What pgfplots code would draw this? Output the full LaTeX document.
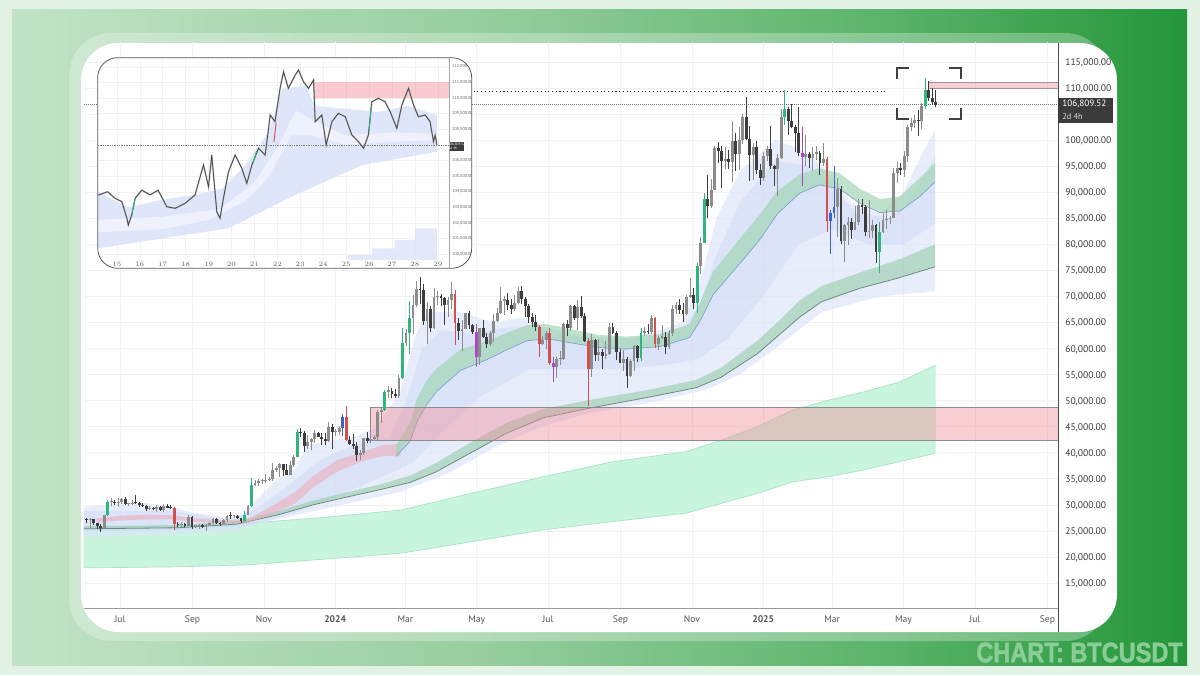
\documentclass[border=0pt]{standalone}
\usepackage{pgfplots}
\pgfplotsset{compat=1.18}
\usepackage{pgfplotstable}
\usepackage{fontspec}
\setmainfont{PT Sans}
\newfontfamily\titlefont[BoldFeatures={FakeBold=1.6}]{Liberation Sans}

\definecolor{bgbase}{HTML}{E2F2E4}
\definecolor{g1}{HTML}{C2E3C7}
\definecolor{g2}{HTML}{97CE9F}
\definecolor{g3}{HTML}{5BB46A}
\definecolor{g4}{HTML}{24963A}
\definecolor{mintA}{HTML}{C9F5DF}
\definecolor{mintAline}{HTML}{A6E3C5}
\definecolor{cloudA}{HTML}{DCE4FA}
\definecolor{cloudB}{HTML}{CCD7F7}
\definecolor{bandB}{HTML}{8FC9A3}
\definecolor{bandBline}{HTML}{6E8C7E}
\definecolor{bandC}{HTML}{9ED4B0}
\definecolor{bandCline}{HTML}{7E9FD0}
\definecolor{pinkC}{HTML}{EFA9B4}
\definecolor{zone}{HTML}{F28B96}
\definecolor{upc}{HTML}{8C8C8C}
\definecolor{dnc}{HTML}{3D3D3D}
\definecolor{grc}{HTML}{2EB67D}
\definecolor{rdc}{HTML}{D0504F}
\definecolor{blc}{HTML}{3A62C8}
\definecolor{ppc}{HTML}{A54BC6}
\definecolor{gridc}{HTML}{F1F1F1}
\definecolor{labc}{HTML}{3A3A3A}
\definecolor{xlabc}{HTML}{555555}
\definecolor{pricebox}{HTML}{3B3B3B}
\definecolor{titlec}{HTML}{93D29E}

\pgfdeclarehorizontalshading{greenbg}{100bp}{color(0bp)=(g1); color(25bp)=(g1); color(45bp)=(g2); color(62bp)=(g3); color(75bp)=(g4); color(100bp)=(g4)}

% #1 condition (pgfmath), #2 colour
\newcommand\candleset[2]{%
 \addplot[draw=none, mark=none, unbounded coords=discard, error bars/.cd, y dir=plus, y explicit, error mark=none,
   error bar style={draw=#2, solid, line width=0.65pt}]
   table[x=x, y expr={(#1) ? \thisrow{l} : nan}, y error expr={\thisrow{h}-\thisrow{l}}] {\candletab};
 \addplot[draw=none, mark=none, unbounded coords=discard, error bars/.cd, y dir=plus, y explicit, error mark=none,
   error bar style={draw=#2, solid, line width=2.1pt}]
   table[x=x, y expr={(#1) ? min(\thisrow{o},\thisrow{c}) : nan}, y error expr={max(abs(\thisrow{c}-\thisrow{o}),0.25)}] {\candletab};
}

% 3-day candles, x = day since 1 Jul 2023, prices in thousands of USDT
% k: 0 normal, 1 green, 2 red, 3 blue, 4 purple
\pgfplotstableread{
x o h l c k
-28.5 27.2 27.4 26.6 27.1 0
-25.5 27.1 27.4 25.4 27.2 0
-22.5 27.2 27.3 26.1 26.5 0
-19.5 26.5 26.6 25.3 25.9 0
-16.5 25.9 26.4 24.8 25.6 0
-13.5 25.6 28.1 25.4 28.0 0
-10.5 28.0 31.0 27.9 30.5 1
-7.5 30.5 31.4 29.8 30.6 0
-4.5 30.6 31.0 29.9 30.3 0
-1.5 30.3 31.3 29.5 30.5 0
1.5 30.5 31.4 30.2 31.1 0
4.5 31.1 31.5 29.9 30.1 0
7.5 30.1 30.4 29.7 30.2 0
10.5 30.2 31.0 29.9 30.4 0
13.5 30.4 31.8 30.2 30.3 0
16.5 30.3 30.5 29.5 29.9 0
19.5 29.9 30.4 29.6 29.8 0
22.5 29.8 30.0 28.9 29.2 0
25.5 29.2 29.7 29.0 29.3 0
28.5 29.3 29.5 29.0 29.2 0
31.5 29.2 29.9 28.6 29.5 0
34.5 29.5 29.8 28.9 29.0 0
37.5 29.0 30.2 28.7 29.7 0
40.5 29.7 30.1 29.3 29.4 0
43.5 29.4 30.0 29.2 29.3 0
46.5 29.3 29.5 25.2 26.4 2
49.5 26.4 26.8 25.8 26.1 0
52.5 26.1 26.8 25.8 26.4 0
55.5 26.4 26.6 25.8 26.0 0
58.5 26.0 28.1 25.9 27.6 0
61.5 27.6 27.8 25.3 25.8 0
64.5 25.8 26.1 25.6 25.9 0
67.5 25.9 26.4 25.4 26.2 0
70.5 26.2 26.4 25.6 25.8 0
73.5 25.8 26.4 24.9 26.2 0
76.5 26.2 26.8 26.1 26.5 0
79.5 26.5 27.5 26.3 27.2 0
82.5 27.2 27.4 26.4 26.6 0
85.5 26.6 26.7 26.0 26.3 0
88.5 26.3 27.3 26.1 27.0 0
91.5 27.0 28.0 26.7 27.9 0
94.5 27.9 28.6 27.2 27.8 0
97.5 27.8 28.1 27.4 27.9 0
100.5 27.9 28.0 27.3 27.4 0
103.5 27.4 27.5 26.6 26.9 0
106.5 26.9 28.8 26.8 28.1 1
109.5 28.1 29.9 28.0 29.7 0
112.5 29.7 35.2 29.6 33.9 1
115.5 33.9 34.8 33.6 34.1 0
118.5 34.1 34.9 33.7 34.5 0
121.5 34.5 34.9 34.0 34.6 0
124.5 34.6 35.9 34.1 34.7 0
127.5 34.7 35.3 34.6 35.0 0
130.5 35.0 38.0 34.5 36.7 0
133.5 36.7 37.5 36.4 37.1 0
136.5 37.1 38.0 35.4 37.9 0
139.5 37.9 37.9 35.5 36.6 0
142.5 36.6 37.9 35.7 35.8 0
145.5 35.8 38.4 35.8 37.7 0
148.5 37.7 39.5 37.3 39.2 0
151.5 39.2 44.5 39.1 44.0 1
154.5 44.0 44.8 43.1 43.8 0
157.5 43.8 44.2 40.2 41.3 0
160.5 41.3 43.4 40.8 42.0 0
163.5 42.0 42.8 40.5 42.6 0
166.5 42.6 44.3 41.8 43.7 0
169.5 43.7 44.0 43.0 43.1 0
172.5 43.1 43.7 41.4 42.6 0
175.5 42.6 43.8 41.5 42.3 0
178.5 42.3 45.9 42.0 44.9 0
181.5 44.9 45.5 40.8 43.9 0
184.5 43.9 44.5 43.2 44.0 0
187.5 44.0 45.2 43.5 44.8 0
190.5 44.8 47.5 43.2 46.9 3
193.5 46.9 49.0 42.2 42.5 2
196.5 42.5 43.3 41.5 41.7 0
199.5 41.7 43.6 40.7 41.2 0
202.5 41.2 42.0 38.5 39.6 0
205.5 39.6 40.6 38.6 40.0 0
208.5 40.0 42.9 39.5 42.8 0
211.5 42.8 43.9 41.8 42.2 0
214.5 42.2 43.4 41.9 42.6 0
217.5 42.6 43.5 42.3 43.1 0
220.5 43.1 48.3 42.3 47.9 0
223.5 47.9 48.5 45.7 48.2 0
226.5 48.2 52.0 48.0 51.7 1
229.5 51.7 52.8 50.6 51.9 0
232.5 51.9 52.5 50.6 51.3 0
235.5 51.3 52.3 50.5 50.8 0
238.5 50.8 54.9 50.5 54.3 0
241.5 54.3 63.9 54.2 61.1 1
244.5 61.1 63.7 60.4 62.9 0
247.5 62.9 69.2 59.0 65.9 1
250.5 65.9 70.2 62.7 68.3 0
253.5 68.3 72.9 67.9 71.4 0
256.5 71.4 73.8 68.6 71.2 0
259.5 71.2 72.4 64.6 65.3 0
262.5 65.3 68.9 60.8 67.6 0
265.5 67.6 68.2 63.2 64.0 0
268.5 64.0 71.6 63.8 69.9 0
271.5 69.9 71.0 68.3 70.0 0
274.5 70.0 70.4 68.1 69.7 0
277.5 69.7 69.8 64.5 68.4 0
280.5 68.4 69.9 66.0 69.4 0
283.5 69.4 72.8 67.5 70.5 0
286.5 70.5 71.3 60.7 64.9 2
289.5 64.9 65.8 61.7 63.4 0
292.5 63.4 65.4 59.6 63.8 0
295.5 63.8 66.9 63.7 66.8 0
298.5 66.8 67.2 63.8 64.5 0
301.5 64.5 64.8 62.8 63.1 0
304.5 63.1 64.7 56.5 58.3 4
307.5 58.3 64.0 56.9 63.9 0
310.5 63.9 65.5 62.0 62.3 0
313.5 62.3 63.0 60.2 60.8 0
316.5 60.8 63.4 60.4 62.9 0
319.5 62.9 66.7 61.2 65.2 0
322.5 65.2 67.7 65.1 66.9 0
325.5 66.9 71.9 66.6 69.2 0
328.5 69.2 70.0 66.5 69.3 0
331.5 69.3 70.6 67.4 68.4 0
334.5 68.4 69.5 66.7 67.5 0
337.5 67.5 70.3 67.3 68.8 0
340.5 68.8 71.8 68.5 71.1 0
343.5 71.1 72.0 68.5 69.6 0
346.5 69.6 69.9 66.1 68.2 0
349.5 68.2 68.5 65.0 66.0 0
352.5 66.0 66.9 64.1 65.1 0
355.5 65.1 66.4 63.4 64.1 0
358.5 64.1 64.5 58.4 60.8 2
361.5 60.8 62.4 60.6 61.6 0
364.5 61.6 63.3 60.0 62.9 0
367.5 62.9 63.9 56.9 57.3 2
370.5 57.3 58.4 53.5 56.4 4
373.5 56.4 58.3 54.3 57.9 0
376.5 57.9 59.5 56.9 57.9 0
379.5 57.9 64.9 57.8 64.7 0
382.5 64.7 65.4 62.5 63.9 0
385.5 63.9 68.3 63.3 68.1 0
388.5 68.1 68.4 65.4 65.9 0
391.5 65.9 69.4 63.5 67.9 0
394.5 67.9 70.0 65.8 66.2 0
397.5 66.2 66.9 61.2 61.4 0
400.5 61.4 62.1 49.0 56.0 2
403.5 56.0 62.7 54.6 61.7 0
406.5 61.7 61.8 57.7 58.7 0
409.5 58.7 61.8 57.7 59.3 0
412.5 59.3 59.9 56.1 58.5 0
415.5 58.5 61.4 58.0 59.0 0
418.5 59.0 64.9 58.8 64.1 0
421.5 64.1 65.0 62.8 62.9 0
424.5 62.9 63.3 57.8 59.4 0
427.5 59.4 60.0 57.2 57.3 0
430.5 57.3 59.8 55.6 57.9 0
433.5 57.9 58.3 52.5 54.8 0
436.5 54.8 58.0 54.6 57.6 0
439.5 57.6 60.6 55.6 60.5 0
442.5 60.5 60.6 57.5 58.2 0
445.5 58.2 63.9 57.6 62.9 1
448.5 62.9 64.1 62.4 63.3 0
451.5 63.3 64.8 62.7 63.1 0
454.5 63.1 66.5 62.7 65.8 0
457.5 65.8 66.0 60.2 60.8 2
460.5 60.8 62.5 59.8 62.1 0
463.5 62.1 64.5 61.8 62.2 0
466.5 62.2 63.2 58.9 60.3 0
469.5 60.3 63.5 60.0 63.0 0
472.5 63.0 68.4 62.4 67.6 0
475.5 67.6 68.9 66.7 68.4 0
478.5 68.4 69.5 66.6 67.4 0
481.5 67.4 68.8 65.1 66.6 0
484.5 66.6 70.2 66.5 69.9 0
487.5 69.9 73.6 69.7 70.2 0
490.5 70.2 71.6 67.5 68.8 0
493.5 68.8 76.4 66.8 75.9 1
496.5 75.9 81.5 74.4 80.3 0
499.5 80.3 89.9 80.2 88.7 1
502.5 88.7 93.4 85.1 87.3 0
505.5 87.3 92.6 87.0 90.5 0
508.5 90.5 98.9 90.4 98.4 0
511.5 98.4 99.6 95.7 97.9 0
514.5 97.9 98.9 90.8 96.0 0
517.5 96.0 98.7 94.5 96.4 0
520.5 96.4 98.2 94.5 95.9 0
523.5 95.9 103.6 92.0 99.9 0
526.5 99.9 101.4 94.1 97.4 0
529.5 97.4 102.5 94.2 100.0 0
532.5 100.0 105.0 99.2 104.5 0
535.5 104.5 108.3 100.0 100.2 0
538.5 100.2 102.8 92.2 97.2 0
541.5 97.2 99.5 92.4 98.7 0
544.5 98.7 99.9 93.5 94.2 0
547.5 94.2 95.5 91.4 92.8 0
550.5 92.8 97.8 92.1 96.9 0
553.5 96.9 98.8 96.0 98.3 0
556.5 98.3 102.7 94.5 95.0 0
559.5 95.0 95.3 91.2 94.5 0
562.5 94.5 97.4 89.3 96.5 0
565.5 96.5 105.9 96.4 104.4 0
568.5 104.4 109.6 103.0 106.0 1
571.5 106.0 106.4 101.0 103.7 0
574.5 103.7 107.0 102.3 102.6 0
577.5 102.6 103.0 97.8 101.3 0
580.5 101.3 106.4 97.0 97.6 0
583.5 97.6 102.5 91.2 96.7 4
586.5 96.7 101.0 95.0 97.3 0
589.5 97.3 97.8 94.7 96.6 0
592.5 96.6 98.6 94.0 97.4 0
595.5 97.4 98.8 96.1 97.6 0
598.5 97.6 97.9 93.3 95.6 0
601.5 95.6 99.5 95.0 96.3 0
604.5 96.3 96.7 82.3 84.4 2
607.5 84.4 86.5 78.2 86.0 3
610.5 86.0 95.0 85.0 87.2 3
613.5 87.2 92.8 81.4 90.6 0
616.5 90.6 91.2 80.0 80.7 0
619.5 80.7 84.0 76.6 83.7 0
622.5 83.7 85.3 79.9 84.3 0
625.5 84.3 85.0 81.1 82.7 0
628.5 82.7 87.4 82.7 84.2 0
631.5 84.2 88.8 83.7 87.5 0
634.5 87.5 88.8 85.9 87.2 0
637.5 87.2 87.5 81.6 82.4 0
640.5 82.4 88.5 81.3 82.5 0
643.5 82.5 84.7 81.2 83.8 0
646.5 83.8 84.0 76.5 78.5 0
649.5 78.5 84.3 74.5 82.4 1
652.5 82.4 86.0 82.2 84.6 0
655.5 84.6 86.5 83.0 84.9 0
658.5 84.9 85.5 83.9 85.1 0
661.5 85.1 94.7 85.0 93.7 0
664.5 93.7 95.8 91.7 94.6 0
667.5 94.6 95.6 93.4 94.3 0
670.5 94.3 97.9 92.9 96.9 0
673.5 96.9 103.0 95.8 102.5 0
676.5 102.5 104.3 101.8 103.2 0
679.5 103.2 104.9 102.3 103.9 0
682.5 103.9 105.8 100.8 103.6 0
685.5 103.6 107.1 102.1 106.5 0
688.5 106.5 112.0 106.0 109.6 1
691.5 109.6 111.3 107.5 108.1 0
694.5 108.1 110.0 106.8 107.3 0
697.5 107.3 109.6 106.3 106.81 0
}\candletab

\begin{document}
\begin{tikzpicture}
% ---------------- background (image pixel coordinates) ----------------
\begin{scope}[x=0.75pt,y=-0.75pt]
\useasboundingbox (0,0) rectangle (1200,675);
\fill[bgbase] (0,0) rectangle (1200,675);
\shade[shading=greenbg] (12,9) rectangle (1187,665);
\fill[white, opacity=0.28, rounded corners=32pt] (69,33) rectangle (1108,641);
\fill[white, rounded corners=28pt] (81,43) rectangle (1117,632);
\end{scope}

% ---------------- main chart ----------------
\begin{axis}[
 at={(63pt,-456pt)}, anchor=south west,
 width=730.5pt, height=424.5pt, scale only axis,
 xmin=-30.8, xmax=802.1, ymin=10.2, ymax=118.84,
 axis line style={draw=none},
 major tick length=0pt,
 xtick={0,62,123,184,244,305,366,428,489,550,609,670,731,793},
 xticklabels={Jul,Sep,Nov,\textbf{2024},Mar,May,Jul,Sep,Nov,\textbf{2025},Mar,May,Jul,Sep},
 ytick={15,20,25,30,35,40,45,50,55,60,65,70,75,80,85,90,95,100,105,110,115},
 yticklabels={{15,000.00},{20,000.00},{25,000.00},{30,000.00},{35,000.00},{40,000.00},{45,000.00},{50,000.00},{55,000.00},{60,000.00},{65,000.00},{70,000.00},{75,000.00},{80,000.00},{85,000.00},{90,000.00},{95,000.00},{100,000.00},{},{110,000.00},{115,000.00}},
 yticklabel pos=right,
 grid=major, major grid style={draw=gridc, line width=0.5pt},
 yticklabel style={anchor=base west, inner sep=0pt, xshift=5.25pt, yshift=-2.6pt, font=\fontsize{7.2}{8}\selectfont, text=labc},
 xticklabel style={anchor=base, inner sep=0pt, yshift=-10.9pt, font=\fontsize{7.2}{8}\selectfont, text=xlabc},
]
% band A (mint)
\addplot[draw=mintAline, line width=0.5pt, fill=mintA] coordinates {
(-31,25.7) (50,26.0) (110,26.5) (170,27.5) (240,29.0) (300,32.2) (362,35.4) (422,38.3) (484,40.2) (514,42.4) (545,45.0) (575,48.2) (606,50.1) (636,51.7) (667,53.6) (697,56.8)
(697,39.9) (667,38.3) (636,36.7) (606,35.4) (575,34.4) (545,32.2) (484,28.4) (422,26.8) (362,25.2) (300,22.9) (240,20.7) (170,19.5) (110,18.5) (50,18.1) (-31,17.9)} -- cycle;
% outer cloud
\addplot[draw=none, fill=cloudA, fill opacity=0.65] coordinates {
(-31,29.6) (0,30.2) (20,30.4) (45,29.6) (60,28.6) (90,27.6) (105,28.0) (115,30.5) (130,34.0) (150,37.0) (160,41.5) (185,42.5) (200,43.0) (220,45.0) (240,52) (252,62) (262,67) (290,67) (320,65) (345,66) (370,63) (400,62) (430,61.5) (455,63) (480,65) (495,72) (510,85) (530,94) (560,100) (585,98) (605,94) (625,88) (650,86) (670,90) (685,97) (697,102)
(697,71) (650,70) (600,67) (560,60) (530,55) (500,52) (450,49.5) (400,47.5) (360,45) (320,41) (280,36) (240,32.5) (200,30.5) (160,28.5) (120,26.5) (100,25.0) (60,24.5) (0,24.0) (-31,23.8)} -- cycle;
% inner cloud
\addplot[draw=none, fill=cloudB, fill opacity=0.45] coordinates {
(-31,28.8) (45,28.9) (90,27.2) (115,29.0) (140,33) (170,38.5) (200,41.5) (230,43) (245,50) (258,60) (275,63.5) (300,63) (330,64) (360,64.5) (390,62.5) (420,62) (450,62) (480,63.5) (495,68) (510,78) (530,88) (560,96) (590,95) (610,91) (630,86) (660,85) (680,90) (697,97)
(697,84) (670,80) (640,80) (610,83) (580,80) (550,70) (520,62) (495,58) (470,57) (430,56) (390,56) (350,56) (310,51) (280,45) (250,38) (220,35) (190,32) (150,28.5) (110,26.0) (60,25.2) (0,25.0) (-31,25.0)} -- cycle;
% band B
\addplot[draw=none, fill=bandB, fill opacity=0.55] coordinates {
(-31,25.9) (50,26.1) (100,26.9) (137,28.9) (165,30.8) (194,32.4) (222,33.9) (248,35.6) (270,38.0) (300,42.0) (331,45.8) (362,48.4) (398,50.0) (453,52.1) (493,54.0) (514,56.3) (545,61.5) (563,65.2) (581,69.2) (600,72.0) (633,74.6) (665,77.0) (697,80.0)
(697,75.7) (665,73.5) (633,71.6) (600,69.0) (581,66.0) (563,62.5) (545,59.0) (514,54.5) (493,52.5) (453,50.7) (398,48.4) (362,46.7) (331,43.8) (300,40.0) (270,36.3) (248,34.3) (222,32.9) (194,31.5) (165,30.0) (137,28.2) (100,26.3) (50,25.6) (-31,25.4)} -- cycle;
\addplot[draw=bandBline, line width=0.6pt] coordinates {
(-31,25.4) (50,25.6) (100,26.3) (137,28.2) (165,30.0) (194,31.5) (222,32.9) (248,34.3) (270,36.3) (300,40.0) (331,43.8) (362,46.7) (398,48.4) (453,50.7) (493,52.5) (514,54.5) (545,59.0) (563,62.5) (581,66.0) (600,69.0) (633,71.6) (665,73.5) (697,75.7)};
% band C pink segment
\addplot[draw=none, fill=pinkC, fill opacity=0.55] coordinates {
(-20,27.4) (0,27.9) (20,28.1) (45,28.0) (60,27.5) (90,27.0) (110,27.3) (130,29.8) (150,32.5) (165,35.5) (185,38.5) (208,40.2) (225,41.5) (240,41.7)
(240,39.3) (225,39.4) (208,38.4) (185,36.3) (165,33.3) (150,30.3) (130,28.2) (110,26.6) (90,26.4) (60,26.8) (45,27.2) (20,27.2) (0,27.0) (-20,26.6)} -- cycle;
% band C green
\addplot[draw=none, fill=bandC, fill opacity=0.65] coordinates {
(236,41.4) (248,45.8) (254,50.4) (262,53.8) (271,56.2) (291,59.8) (314,61.5) (333,63.2) (348,64.5) (365,64.7) (388,63.6) (410,62.6) (433,62.3) (462,62.8) (487,64.7) (497,69.3) (507,74.7) (533,81.9) (547,85.7) (562,90.2) (581,93.4) (598,94.6) (615,93.7) (633,90.6) (650,88.7) (667,89.2) (684,92.8) (697,95.6)
(697,92.0) (684,89.2) (667,86.4) (650,86.1) (633,87.8) (615,90.7) (598,91.4) (581,89.8) (562,85.8) (547,80.9) (533,77.1) (507,70.3) (497,65.7) (487,62.1) (462,60.4) (433,59.9) (410,60.2) (388,61.0) (365,61.9) (348,61.5) (333,60.0) (314,57.9) (291,55.8) (271,51.8) (262,49.2) (254,46.0) (248,42.2) (236,39.3)} -- cycle;
\addplot[draw=bandCline, line width=0.5pt] coordinates {
(236,39.3) (248,42.2) (254,46.0) (262,49.2) (271,51.8) (291,55.8) (314,57.9) (333,60.0) (348,61.5) (365,61.9) (388,61.0) (410,60.2) (433,59.9) (462,60.4) (487,62.1) (497,65.7) (507,70.3) (533,77.1) (547,80.9) (562,85.8) (581,89.8) (598,91.4) (615,90.7) (633,87.8) (650,86.1) (667,86.4) (684,89.2) (697,92.0)};
% demand zone
\addplot[fill=zone, fill opacity=0.42, draw=black!45, line width=0.6pt] coordinates {(213.8,42.45) (802.1,42.45) (802.1,48.78) (213.8,48.78)} -- cycle;
% supply zone top right
\addplot[fill=zone, fill opacity=0.42, draw=black!40, line width=0.5pt] coordinates {(690.9,109.95) (802.1,109.95) (802.1,111.03) (690.9,111.03)} -- cycle;
% level lines
\addplot[draw=black!85, line width=0.8pt, dotted] coordinates {(280,109.3) (656.4,109.3)};
\addplot[draw=black!55, line width=0.5pt, densely dotted] coordinates {(-30.8,106.81) (802.1,106.81)};
% candles
\candleset{(\thisrow{k}==0)*(\thisrow{c}>=\thisrow{o})}{upc}
\candleset{(\thisrow{k}==0)*(\thisrow{c}<\thisrow{o})}{dnc}
\candleset{\thisrow{k}==1}{grc}
\candleset{\thisrow{k}==2}{rdc}
\candleset{\thisrow{k}==3}{blc}
\candleset{\thisrow{k}==4}{ppc}
\end{axis}

% ---------------- overlay items ----------------
\begin{scope}[x=0.75pt,y=-0.75pt]
\draw[black!70, line width=0.75pt] (1058,43) -- (1058,632);
\draw[black!40, line width=0.6pt] (84,608) -- (1058,608);
\fill[pricebox] (1058,98) rectangle (1113,122.5);
\node[anchor=base west, inner sep=0pt, text=white, font=\fontsize{6.9}{7}\selectfont] at (1062,106.4) {106,809.52};
\node[anchor=base west, inner sep=0pt, text=white!85!black, font=\fontsize{6.3}{7}\selectfont] at (1062,119.5) {2d 4h};
\begin{scope}[draw=black!75, line width=1.3pt]
\draw (897,79) -- (897,68) -- (909,68);
\draw (949,68) -- (961,68) -- (961,79);
\draw (897,108) -- (897,119) -- (909,119);
\draw (949,119) -- (961,119) -- (961,108);
\end{scope}
% inset frame background
\fill[white, rounded corners=15pt] (97.7,57.7) rectangle (471.7,268.3);
\end{scope}

% ---------------- inset chart ----------------
\begin{scope}
\clip[rounded corners=15pt] (73.275pt,-43.275pt) rectangle (353.775pt,-201.225pt);
\begin{axis}[
 at={(73.5pt,-195pt)}, anchor=south west,
 width=263.5pt, height=151.5pt, scale only axis,
 xmin=14.18, xmax=29.5, ymin=99.63, ymax=112.56,
 axis line style={draw=none},
 major tick length=0pt,
 xtick={15,16,17,18,19,20,21,22,23,24,25,26,27,28,29},
 ytick={100,101,102,103,104,105,106,108,109,110,111,112},
 yticklabels={{100,000.00},{101,000.00},{102,000.00},{103,000.00},{104,000.00},{105,000.00},{106,000.00},{108,000.00},{109,000.00},{110,000.00},{111,000.00},{112,000.00}},
 yticklabel pos=right,
 grid=major, major grid style={draw=gridc, line width=0.3pt},
 yticklabel style={anchor=west, inner sep=0pt, xshift=2pt, font=\fontsize{3.2}{3.5}\selectfont, text=black!60},
 xticklabel style={anchor=center, inner sep=0pt, yshift=-3pt, font=\fontsize{3.2}{3.5}\selectfont, text=black!60},
]
\addplot[draw=none, fill=cloudA, fill opacity=0.9] coordinates {
(14.18,104.0) (15.5,103.0) (17.0,103.5) (18.4,103.8) (19.6,104.2) (20.6,105.7) (21.6,107.8) (22.2,110.6) (23.3,110.8) (23.6,109.5) (25.0,109.3) (26.4,109.1) (27.7,109.5) (28.96,108.9)
(28.96,106.56) (25.7,105.71) (22.78,103.79) (19.87,101.66) (14.18,100.38)} -- cycle;
\addplot[draw=none, fill=white, fill opacity=0.5] coordinates {
(14.18,102.2) (17.0,102.4) (19.5,102.9) (21.0,104.6) (22.0,106.8) (22.8,109.2) (23.5,108.6) (25.0,107.6) (27.0,107.8) (28.96,107.7)
(28.96,107.3) (27.0,107.2) (25.0,107.0) (23.5,107.6) (22.6,107.6) (21.6,104.9) (20.6,103.4) (19.0,102.2) (17.0,101.6) (14.18,101.4)} -- cycle;
\addplot[draw=none, fill=cloudA, fill opacity=0.8] coordinates {
(25.1,99.63) (25.1,99.95) (26.12,99.95) (26.12,100.38) (27.13,100.38) (27.13,100.9) (28.0,100.9) (28.0,101.66) (28.96,101.66) (28.96,99.63)} -- cycle;
\addplot[fill=zone, fill opacity=0.45, draw=none] coordinates {(23.58,110) (29.5,110) (29.5,111) (23.58,111)} -- cycle;
\addplot[draw=black!50, line width=0.3pt, densely dotted] coordinates {(14.18,106.95) (29.5,106.95)};
\addplot[draw=black!35, line width=1.1pt] coordinates {
(14.2,103.79) (14.6,104.0) (14.9,103.6) (15.22,103.36) (15.44,102.3) (15.5,101.87) (15.65,102.5) (15.8,103.58) (16.09,104.1) (16.45,103.8) (16.8,104.1) (17.18,103.04) (17.54,102.94) (17.98,103.26) (18.41,103.79) (18.78,105.71) (19.0,104.32) (19.14,106.35) (19.36,102.72) (19.5,102.3) (19.65,103.58) (19.87,105.28) (20.16,106.35) (20.45,105.5) (20.67,104.54) (20.89,105.71) (21.18,106.78) (21.47,106.35) (21.69,108.91) (21.9,108.48) (22.12,110.62) (22.27,111.68) (22.48,110.62) (22.78,111.47) (22.92,111.79) (23.14,111.04) (23.36,110.62) (23.58,111.15) (23.65,108.48) (23.94,108.91) (24.13,106.99) (24.38,108.48) (24.66,109.02) (24.96,108.8) (25.25,107.63) (25.54,107.2) (25.76,106.78) (25.97,107.63) (26.12,109.76) (26.41,109.98) (26.7,109.76) (26.92,109.12) (27.21,108.06) (27.43,109.55) (27.72,110.62) (27.94,109.55) (28.15,108.8) (28.45,108.91) (28.66,108.48) (28.81,107.2) (28.88,107.63) (28.96,106.99)};
\addplot[draw=black!75, line width=0.45pt] coordinates {
(14.2,103.79) (14.6,104.0) (14.9,103.6) (15.22,103.36) (15.44,102.3) (15.5,101.87) (15.65,102.5) (15.8,103.58) (16.09,104.1) (16.45,103.8) (16.8,104.1) (17.18,103.04) (17.54,102.94) (17.98,103.26) (18.41,103.79) (18.78,105.71) (19.0,104.32) (19.14,106.35) (19.36,102.72) (19.5,102.3) (19.65,103.58) (19.87,105.28) (20.16,106.35) (20.45,105.5) (20.67,104.54) (20.89,105.71) (21.18,106.78) (21.47,106.35) (21.69,108.91) (21.9,108.48) (22.12,110.62) (22.27,111.68) (22.48,110.62) (22.78,111.47) (22.92,111.79) (23.14,111.04) (23.36,110.62) (23.58,111.15) (23.65,108.48) (23.94,108.91) (24.13,106.99) (24.38,108.48) (24.66,109.02) (24.96,108.8) (25.25,107.63) (25.54,107.2) (25.76,106.78) (25.97,107.63) (26.12,109.76) (26.41,109.98) (26.7,109.76) (26.92,109.12) (27.21,108.06) (27.43,109.55) (27.72,110.62) (27.94,109.55) (28.15,108.8) (28.45,108.91) (28.66,108.48) (28.81,107.2) (28.88,107.63) (28.96,106.99)};
\addplot[draw=grc, line width=0.7pt] coordinates {(15.65,102.5) (15.8,103.58)};
\addplot[draw=grc, line width=0.7pt] coordinates {(20.95,105.9) (21.1,106.6)};
\addplot[draw=grc, line width=0.7pt] coordinates {(26.0,107.9) (26.1,109.5)};
\addplot[draw=rdc, line width=0.7pt] coordinates {(21.85,107.2) (21.95,108.4)};
\end{axis}
\end{scope}

\begin{scope}[x=0.75pt,y=-0.75pt]
\draw[black!35, line width=0.4pt] (449.3,58) -- (449.3,268);
\fill[pricebox] (450,142) rectangle (463.5,151);
\node[inner sep=0pt, text=white, font=\fontsize{2.6}{3}\selectfont, align=left] at (456.7,146.5) {106,809.52\\2d 4h};
\draw[black!65, line width=0.6pt, rounded corners=15pt] (97.7,57.7) rectangle (471.7,268.3);
\node[anchor=east, inner sep=0pt, xscale=0.84, text=titlec, text opacity=0.9, font=\titlefont\bfseries\fontsize{21}{21}\selectfont] at (1183,652.5) {CHART: BTCUSDT};
\end{scope}
\end{tikzpicture}
\end{document}
